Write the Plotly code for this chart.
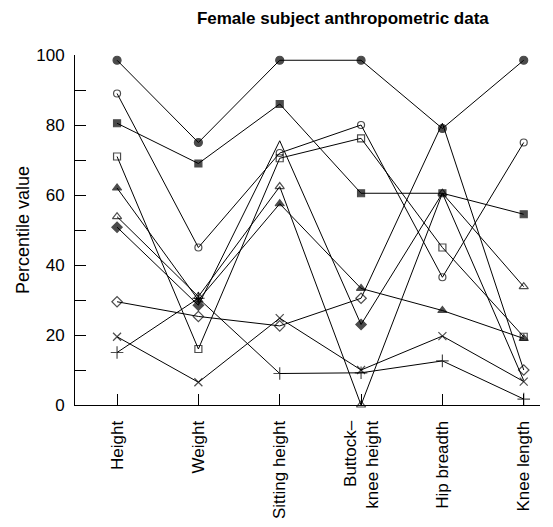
import plotly.graph_objects as go

# Anthropometric measures (x categories)
categories = ['Height', 'Weight', 'Sitting height', 'Buttock–<br>knee height', 'Hip breadth', 'Knee length']

# Percentile values per subject
filled_circle = [98.5, 75, 98.5, 98.5, 79, 98.5]
open_circle = [89, 45, 72, 80, 36.5, 75]
filled_square = [80.5, 69, 86, 60.5, 60.5, 54.5]
open_square = [71, 16, 70.5, 76.2, 45, 19.5]
filled_triangle = [62, 30, 57.5, 33.3, 27, 19]
open_triangle = [53.8, 31, 62.4, 0, 60.5, 33.8]
filled_diamond = [50.8, 28.5, 75.5, 23, 60.5, 7]
open_diamond = [29.5, 25.3, 22.6, 30.5, 80.5, 10]
cross_x = [19.5, 6.5, 24.8, 10, 19.7, 6.7]
cross_plus = [15, 30.5, 9, 9.2, 12.6, 1.7]


def main():
    # (values, symbol, size, points drawn without a marker)
    series = [
        (filled_diamond, 'diamond', 8, [2, 4, 5]),
        (open_diamond, 'diamond-open', 8, [4]),
        (filled_triangle, 'triangle-up', 8, []),
        (open_triangle, 'triangle-up-open', 8, []),
        (open_square, 'square-open', 7, []),
        (filled_square, 'square', 7, []),
        (open_circle, 'circle-open', 7, []),
        (filled_circle, 'circle', 8, []),
        (cross_plus, 'cross-thin-open', 9, []),
        (cross_x, 'x-thin-open', 8, []),
    ]

    fig = go.Figure()
    for values, symbol, size, hidden in series:
        sizes = [0 if i in hidden else size for i in range(len(values))]
        fig.add_trace(go.Scatter(
            x=categories,
            y=values,
            mode='lines+markers',
            line=dict(color='black', width=1),
            marker=dict(symbol=symbol, size=sizes, color='black',
                        line=dict(color='black', width=1.2)),
            cliponaxis=False,
            showlegend=False,
        ))

    # page body adds an 8px offset, so the figure is 8px smaller than the window
    fig.update_layout(
        title=dict(text='<b>Female subject anthropometric data</b>',
                   x=0.576, xref='paper', xanchor='center',
                   y=0.981, yanchor='middle',
                   font=dict(size=17, color='black')),
        font=dict(family='Liberation Sans, Arial, sans-serif', color='black'),
        width=545, height=519,
        margin=dict(l=67, r=13, t=47, b=122),
        plot_bgcolor='white', paper_bgcolor='white',
    )
    fig.update_xaxes(
        range=[-0.517, 5.2], showgrid=False, zeroline=False, automargin=False,
        showline=True, linecolor='black', linewidth=1,
        ticks='inside', ticklen=11, tickcolor='black', ticklabelstandoff=8,
        tickangle=-90, tickfont=dict(size=17),
    )
    fig.update_yaxes(
        range=[0, 100], showgrid=False, zeroline=False, automargin=False,
        showline=True, linecolor='black', linewidth=1,
        ticks='inside', ticklen=11, tickcolor='black', ticklabelstandoff=6,
        tickvals=[0, 20, 40, 60, 80, 100], tickfont=dict(size=17),
        minor=dict(tickvals=[10, 30, 50, 70, 90], ticks='inside',
                   ticklen=11, tickcolor='black'),
        title=dict(text='Percentile value', font=dict(size=18), standoff=1),
    )

    fig.write_html('out.html')


if __name__ == '__main__':
    main()
